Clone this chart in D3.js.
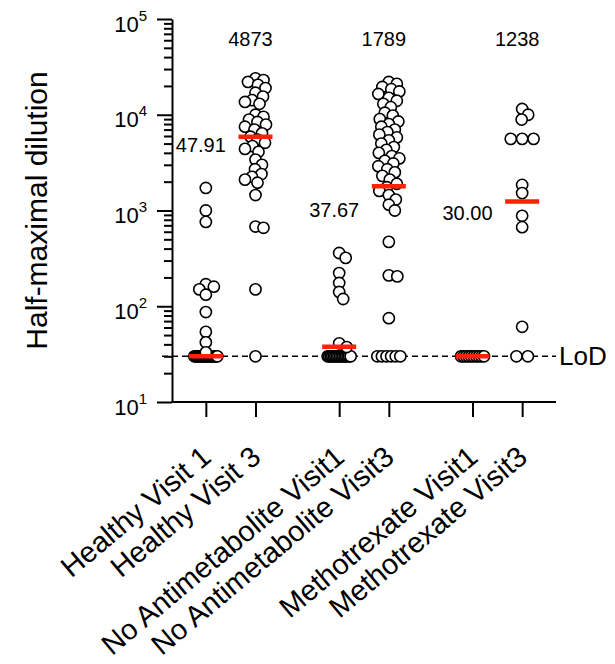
<!DOCTYPE html>
<html>
<head>
<meta charset="utf-8">
<script src="https://cdn.jsdelivr.net/npm/d3@7"></script>
<style>
  body { margin: 0; background: #fff; }
  svg { display: block; font-family: "Liberation Sans", Arial, sans-serif; }
</style>
</head>
<body>
<div id="chart"></div>
<script>
// categories, in plotting order
var categories = ["Healthy Visit 1", "Healthy Visit 3",
                  "No Antimetabolite Visit1", "No Antimetabolite Visit3",
                  "Methotrexate Visit1", "Methotrexate Visit3"];
var groups = ["Healthy", "No Antimetabolite", "Methotrexate"];
var visits = ["Visit 1", "Visit 3"];
var catGroup = [0, 0, 1, 1, 2, 2];
var catVisit = [0, 1, 0, 1, 0, 1];

// half-maximal dilution per subject
var healthyV1 = [1720, 1000, 760, 170, 160, 150, 132, 87, 54, 42, 33,
                 30, 30, 30, 30, 30, 30, 30, 30, 30, 30, 30, 30, 30, 30, 30, 30, 30, 30];
var healthyV3 = [24000, 23000, 22000, 20500, 19000, 17000, 15500, 14200, 13600, 13000,
                 10000, 9500, 8900, 8400, 7900, 7500, 7000, 6400, 5900, 5500, 5100, 4700, 4400, 4100,
                 3400, 3000, 2700, 2400, 2250, 2100, 1950,
                 1450, 680, 660, 150, 30];
var noAntiV1 = [360, 320, 222, 175, 141, 119, 41, 37.5,
                30, 30, 30, 30, 30, 30, 30, 30, 30, 30, 30, 30, 30, 30, 30, 30];
var noAntiV3 = [22000, 21000, 19500, 18500, 17500, 16500, 15000, 14000, 13000, 12000,
                10500, 9800, 9000, 8500, 8000, 7500, 7000, 6600, 6200, 5800, 5400, 5000,
                4600, 4300, 4000, 3700, 3500, 3300, 3100, 2900, 2700, 2500, 2300, 2100,
                1900, 1750, 1600, 1450, 1300, 1150, 1000,
                470, 210, 205, 75, 30, 30, 30, 30, 30, 30];
var mtxV1 = [30, 30, 30, 30, 30, 30, 30, 30, 30, 30];
var mtxV3 = [11500, 10000, 8900, 5600, 5600, 5600, 1850, 1520, 880, 670, 61, 30, 30];
var series = [healthyV1, healthyV3, noAntiV1, noAntiV3, mtxV1, mtxV3];

// red bars and the numbers printed above each column
var centerLines = [30, 5900, 37.67, 1789, 30, 1238];
var centerLabels = ["47.91", "4873", "37.67", "1789", "30.00", "1238"];

var lod = 30;
var yDecades = [10, 100, 1000, 10000, 100000];

var width = 615, height = 664;
var margin = { top: 19, right: 59, bottom: 262, left: 172 };

var svg = d3.select("#chart").append("svg")
    .attr("width", width)
    .attr("height", height);

var y = d3.scaleLog()
    .domain([10, 100000])
    .range([height - margin.bottom, margin.top]);

// group bands, then visit points inside each band
var outer = d3.scaleBand()
    .domain(groups)
    .range([margin.left, width - margin.right])
    .paddingInner(0.3)
    .paddingOuter(0.09);

var inner = d3.scalePoint()
    .domain(visits)
    .range([0, outer.bandwidth()])
    .padding(0.44);

function xPos(i) {
    return outer(groups[catGroup[i]]) + inner(visits[catVisit[i]]);
}

var xCat = d3.scaleOrdinal()
    .domain(categories)
    .range(categories.map(function (c, i) { return xPos(i); }));

var r = 5.6;

// simple beeswarm: ties go in a row, the rest slide sideways until free
function swarm(values, cx) {
    var cap = 10.5, minD = 2 * r * 0.72;
    var counts = d3.rollup(values, function (v) { return v.length; }, function (d) { return d; });
    var placed = [];
    counts.forEach(function (n, v) {
        if (n < 2) return;
        var sp = Math.min(2 * r * 1.02, 23 / (n - 1));
        for (var k = 0; k < n; k++) {
            placed.push({ v: v, x: cx + (k - (n - 1) / 2) * sp, y: y(v) });
        }
    });
    var singles = values.filter(function (v) { return counts.get(v) === 1; })
        .sort(function (a, b) { return b - a; });
    var cands = [0];
    for (var s = 0.5; s <= cap; s += 0.5) { cands.push(s, -s); }
    singles.forEach(function (v) {
        var py = y(v), best = null, bestD = -1;
        for (var c = 0; c < cands.length; c++) {
            var px = cx + cands[c];
            var dmin = Infinity;
            placed.forEach(function (p) {
                var d = Math.hypot(p.x - px, p.y - py);
                if (d < dmin) dmin = d;
            });
            if (dmin >= minD) { best = px; break; }
            if (dmin > bestD) { bestD = dmin; best = px; }
        }
        placed.push({ v: v, x: best, y: py });
    });
    return placed;
}

// ---- axes ----
var yMinor = y.ticks().filter(function (t) { return yDecades.indexOf(t) < 0; });

var gyMinor = svg.append("g")
    .attr("transform", "translate(" + margin.left + ",0)")
    .call(d3.axisLeft(y).tickValues(yMinor).tickSize(8).tickFormat(""));
gyMinor.select(".domain").remove();

var gy = svg.append("g")
    .attr("transform", "translate(" + margin.left + ",0)")
    .call(d3.axisLeft(y).tickValues(yDecades).tickSize(15).tickSizeOuter(0).tickFormat(""));

gy.selectAll(".tick").append("text")
    .attr("x", -25)
    .attr("y", 12)
    .attr("text-anchor", "end")
    .attr("fill", "#000")
    .style("font-size", "22px")
    .text("10")
    .append("tspan")
    .attr("dy", -11)
    .style("font-size", "15px")
    .text(function (d) { return Math.round(Math.log10(d)); });

svg.selectAll(".tick line, .domain")
    .attr("stroke", "#000")
    .attr("stroke-width", 2);

var gx = svg.append("g")
    .attr("transform", "translate(0," + y(10) + ")")
    .call(d3.axisBottom(xCat).tickSize(15).tickFormat(""));
gx.select(".domain").remove();
gx.selectAll(".tick line").attr("stroke", "#000").attr("stroke-width", 2);

svg.append("line")
    .attr("x1", margin.left - 1)
    .attr("x2", width - margin.right)
    .attr("y1", y(10))
    .attr("y2", y(10))
    .attr("stroke", "#000")
    .attr("stroke-width", 2);

gx.selectAll(".tick").append("text")
    .attr("transform", "translate(0,50) rotate(-40)")
    .attr("dy", "0.35em")
    .attr("text-anchor", "end")
    .attr("fill", "#000")
    .style("font-size", "29px")
    .text(function (d) { return d; });

svg.append("text")
    .attr("transform", "translate(47," + ((margin.top + y(10)) / 2) + ") rotate(-90)")
    .attr("text-anchor", "middle")
    .style("font-size", "30px")
    .text("Half-maximal dilution");

// ---- limit of detection ----
svg.append("line")
    .attr("x1", margin.left - 10)
    .attr("x2", width - margin.right)
    .attr("y1", y(lod))
    .attr("y2", y(lod))
    .attr("stroke", "#000")
    .attr("stroke-width", 1.5)
    .attr("stroke-dasharray", "6,4");

svg.append("text")
    .attr("x", width - margin.right + 3)
    .attr("y", y(lod))
    .attr("dy", "0.35em")
    .style("font-size", "26px")
    .text("LoD");

// ---- points ----
series.forEach(function (vals, i) {
    var pts = swarm(vals, xPos(i));
    svg.append("g").selectAll("circle")
        .data(pts)
        .join("circle")
        .attr("cx", function (d) { return d.x; })
        .attr("cy", function (d) { return d.y; })
        .attr("r", r)
        .attr("fill", "#fff")
        .attr("stroke", "#000")
        .attr("stroke-width", 1.6);
});

// ---- red centre bars ----
svg.append("g").selectAll("line")
    .data(centerLines)
    .join("line")
    .attr("x1", function (d, i) { return xPos(i) - 17; })
    .attr("x2", function (d, i) { return xPos(i) + 17; })
    .attr("y1", function (d) { return y(d); })
    .attr("y2", function (d) { return y(d); })
    .attr("stroke", "#ff2200")
    .attr("stroke-width", 4.5);

// ---- numbers above columns ----
svg.append("g").selectAll("text")
    .data(centerLabels)
    .join("text")
    .attr("x", function (d, i) { return xPos(i) - 5; })
    .attr("y", function (d, i) {
        if (catVisit[i] === 1) return margin.top + 27;
        var top = y(d3.max(series[i]));
        return Math.min(top - 36, y(1000) + 9);
    })
    .attr("text-anchor", "middle")
    .style("font-size", "20px")
    .text(function (d) { return d; });
</script>
</body>
</html>
